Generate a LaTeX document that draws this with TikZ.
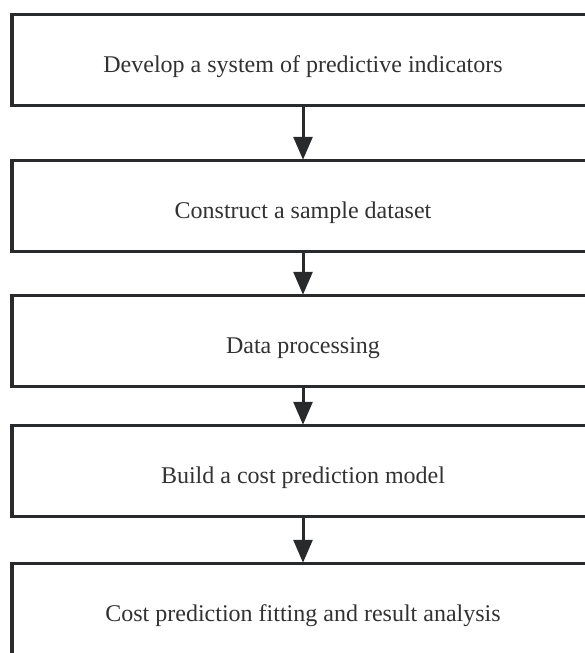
\documentclass[tikz,border=0pt]{standalone}
\usepackage{fontspec}
\setmainfont{Liberation Serif}
\usepackage{xcolor}
\usepackage{tikz}
\usetikzlibrary{positioning, arrows.meta}
\definecolor{BoxGrey}{RGB}{40,42,44}
\definecolor{TextGrey}{RGB}{50,50,50}
\tikzset{
  stepbox/.style={draw=BoxGrey, line width=3.5pt, fill=white, minimum width=582pt, minimum height=91pt,
    inner sep=2pt, text height=24pt, text depth=0pt, font=\fontsize{24}{28}\selectfont, text=TextGrey, align=center},
  flowarr/.style={-{Triangle[width=19pt, length=23pt]}, line width=3pt, BoxGrey, shorten >=-1pt},
}
\begin{document}
\begin{tikzpicture}[x=1pt, y=-1pt]
    \useasboundingbox (0,0) rectangle (585,653);
    \node[stepbox] (dev) at (303,60) {Develop a system of predictive indicators};
    \node[stepbox] (set) at (303,206) {Construct a sample dataset};
    \node[stepbox] (proc) at (303,341) {Data processing};
    \node[stepbox] (model) at (303,471) {Build a cost prediction model};
    \node[stepbox] (fit) at (303,609) {Cost prediction fitting and result analysis};
    \draw[flowarr] (dev) -- (set);
    \draw[flowarr] (set) -- (proc);
    \draw[flowarr] (proc) -- (model);
    \draw[flowarr] (model) -- (fit);
  \end{tikzpicture}
\end{document}
